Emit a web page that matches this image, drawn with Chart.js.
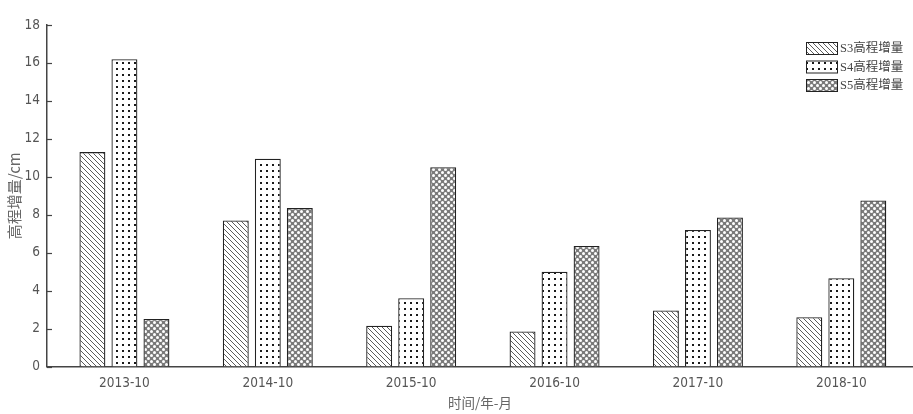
<!DOCTYPE html>
<html>
<head>
<meta charset="utf-8">
<script src="https://cdn.jsdelivr.net/npm/chart.js@4/dist/chart.umd.min.js"></script>
<style>
  body { margin: 0; background: #fff; }
  #wrap { width: 913px; height: 414px; }
</style>
</head>
<body>
<div id="wrap"><canvas id="heightChart"></canvas></div>
<script>
// observation dates and elevation increments (cm)
const categories = ['2013-10', '2014-10', '2015-10', '2016-10', '2017-10', '2018-10']
const s3Values = [11.3, 7.7, 2.15, 1.85, 2.95, 2.6]
const s4Values = [16.2, 10.95, 3.6, 5.0, 7.2, 4.65]
const s5Values = [2.5, 8.35, 10.5, 6.35, 7.85, 8.75]
const seriesLabels = ['S3高程增量', 'S4高程增量', 'S5高程增量']
const yMin = 0, yMax = 18, yStep = 2

//hatch fills
function makePattern(size, paint) {
    const c = document.createElement('canvas')
    c.width = size; c.height = size
    const p = c.getContext('2d')
    paint(p, size)
    return p.createPattern(c, 'repeat')
}
const ctx = document.getElementById('heightChart').getContext('2d')

const diagonal = makePattern(5, (p, s) => {
    p.fillStyle = '#fff'; p.fillRect(0, 0, s, s)
    p.strokeStyle = '#4a4a4a'; p.lineWidth = 0.9
    p.beginPath()
    p.moveTo(-1, -1); p.lineTo(s + 1, s + 1)
    p.moveTo(-1, s - 1); p.lineTo(1, s + 1)
    p.moveTo(s - 1, -1); p.lineTo(s + 1, 1)
    p.stroke()
})
const dots = makePattern(6, (p, s) => {
    p.fillStyle = '#fff'; p.fillRect(0, 0, s, s)
    p.fillStyle = '#1a1a1a'; p.fillRect(2, 2, 2, 2)
})
const mesh = makePattern(6, (p, s) => {
    p.fillStyle = '#7a7a7a'; p.fillRect(0, 0, s, s)
    p.fillStyle = '#fff'
    p.beginPath(); p.arc(1.5, 1.5, 1.5, 0, Math.PI * 2); p.fill()
    p.beginPath(); p.arc(4.5, 4.5, 1.5, 0, Math.PI * 2); p.fill()
})
const fills = [diagonal, dots, mesh]

const toPoints = vals => vals.map((v, i) => ({ x: i, y: v }))

// little tick marks pointing into the plot
const innerTicks = {
    id: 'innerTicks',
    afterDraw(chart) {
        const { ctx, chartArea: { left } } = chart
        const y = chart.scales.y
        ctx.save()
        ctx.strokeStyle = '#444'
        ctx.lineWidth = 1.2
        y.ticks.forEach(t => {
            const py = Math.round(y.getPixelForValue(t.value)) + 0.5
            ctx.beginPath(); ctx.moveTo(left, py); ctx.lineTo(left + 5, py); ctx.stroke()
        })
        ctx.restore()
    }
}

// legend box sitting inside the top right corner
const cornerLegend = {
    id: 'cornerLegend',
    afterDraw(chart) {
        const { ctx } = chart
        ctx.save()
        chart.data.datasets.forEach((ds, i) => {
            const x = 806, y = 42 + i * 18.5
            ctx.fillStyle = ds.backgroundColor
            ctx.fillRect(x, y, 31, 12)
            ctx.strokeStyle = '#222'; ctx.lineWidth = 1
            ctx.strokeRect(x + 0.5, y + 0.5, 31, 12)
            ctx.fillStyle = '#444'
            ctx.font = '12.5px "Liberation Serif", "Noto Sans CJK SC", serif'
            ctx.textBaseline = 'middle'
            ctx.fillText(ds.label, x + 34, y + 7)
        })
        ctx.restore()
    }
}

const datasets = [s3Values, s4Values, s5Values].map((vals, i) => ({
    label: seriesLabels[i],
    data: toPoints(vals),
    backgroundColor: fills[i],
    borderColor: '#222',
    borderWidth: 1.3,
    categoryPercentage: 0.67,
    barPercentage: 0.81,
}))

const tickFont = { family: '"Liberation Sans Narrow", "DejaVu Sans Condensed", sans-serif', size: 13.5 }

new Chart(ctx, {
    type: 'bar',
    data: { datasets },
    options: {
        responsive: true,
        maintainAspectRatio: false,
        animation: false,
        layout: { padding: { top: 25, right: 0, left: 0, bottom: 0 } },
        plugins: {
            legend: { display: false },
            tooltip: { enabled: false },
        },
        scales: {
            x: {
                type: 'linear',
                min: -0.54,
                max: 5.5,
                offset: false,
                afterBuildTicks: scale => { scale.ticks = categories.map((c, i) => ({ value: i })) },
                afterFit: scale => { scale.height = 47.5 },
                ticks: {
                    color: '#555',
                    font: tickFont,
                    padding: 9,
                    maxRotation: 0,
                    callback: v => categories[v] ?? '',
                },
                grid: { display: false, drawTicks: false },
                border: { color: '#444', width: 1.5 },
                title: {
                    display: true,
                    text: '时间/年-月',
                    color: '#666',
                    font: { family: '"Noto Sans CJK SC", sans-serif', size: 13.5 },
                    padding: { top: 0, bottom: 3 },
                },
            },
            y: {
                min: yMin,
                max: yMax,
                afterFit: scale => { scale.width = 47 },
                ticks: { stepSize: yStep, color: '#555', font: tickFont, padding: 7 },
                grid: { display: false, drawTicks: false },
                border: { color: '#444', width: 1.5 },
                title: {
                    display: true,
                    text: '高程增量/cm',
                    color: '#666',
                    font: { family: '"Noto Sans CJK SC", sans-serif', size: 15 },
                    padding: { top: 5, bottom: 0 },
                },
            },
        },
    },
    plugins: [innerTicks, cornerLegend],
})
</script>
</body>
</html>
